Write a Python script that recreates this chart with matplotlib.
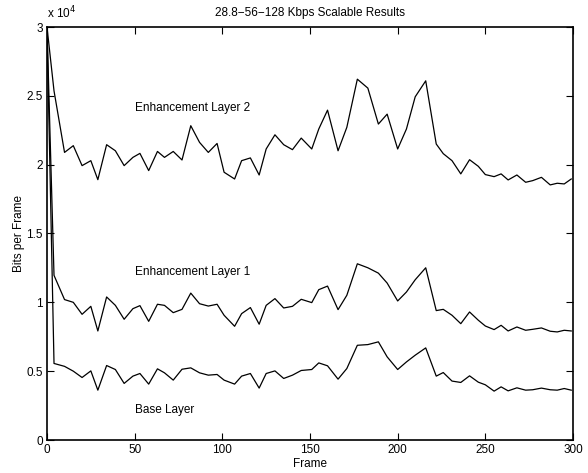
import numpy as np
import matplotlib
matplotlib.use("Agg")
import matplotlib.pyplot as plt

plt.rcParams["font.family"] = ["Liberation Sans", "DejaVu Sans"]

# frame numbers where each layer was sampled
frames = [0, 4, 10, 15, 20, 25, 29, 34, 39, 44,
          49, 53, 58, 63, 67, 72, 77, 82, 87, 92,
          97, 101, 107, 111, 116, 121, 125, 130, 135, 140,
          145, 151, 155, 160, 166, 171, 177, 183, 189, 194,
          200, 205, 210, 216, 222, 226, 231, 236, 241, 246,
          250, 255, 259, 263, 268, 273, 277, 282, 287, 291,
          295, 299]

# bits per frame, in thousands
base_layer = [30, 5.56, 5.35, 5.0, 4.54, 5.02, 3.62, 5.41, 5.12, 4.11,
              4.64, 4.83, 4.06, 5.17, 4.88, 4.35, 5.14, 5.24, 4.88, 4.71,
              4.76, 4.35, 4.06, 4.64, 4.83, 3.77, 4.83, 5.02, 4.47, 4.71,
              5.05, 5.12, 5.60, 5.39, 4.42, 5.19, 6.88, 6.93, 7.13, 6.04,
              5.12, 5.67, 6.16, 6.69, 4.64, 4.90, 4.28, 4.18, 4.66, 4.20,
              4.01, 3.55, 3.86, 3.57, 3.79, 3.62, 3.65, 3.77, 3.65, 3.62,
              3.74, 3.62]

enh_layer1 = [30, 11.96, 10.2, 10.0, 9.13, 9.71, 7.92, 10.39, 9.78, 8.77,
              9.54, 9.76, 8.62, 9.86, 9.78, 9.25, 9.49, 10.67, 9.9, 9.73,
              9.86, 9.06, 8.26, 9.18, 9.62, 8.41, 9.78, 10.27, 9.59, 9.71,
              10.22, 9.98, 10.92, 11.18, 9.47, 10.51, 12.8, 12.51, 12.12, 11.4,
              10.1, 10.75, 11.64, 12.51, 9.4, 9.49, 9.06, 8.45, 9.3, 8.7,
              8.28, 8.02, 8.33, 7.92, 8.21, 7.97, 8.04, 8.14, 7.9, 7.85,
              7.97, 7.92]

enh_layer2 = [30, 25.36, 20.89, 21.38, 19.93, 20.29, 18.91, 21.45, 21.01, 19.93,
              20.53, 20.82, 19.57, 20.96, 20.53, 20.96, 20.34, 22.83, 21.62, 20.89,
              21.54, 19.45, 18.96, 20.29, 20.49, 19.25, 21.14, 22.17, 21.45, 21.09,
              21.93, 21.14, 22.59, 23.96, 21.01, 22.71, 26.21, 25.56, 22.95, 23.67,
              21.14, 22.59, 24.93, 26.09, 21.5, 20.8, 20.29, 19.33, 20.36, 19.88,
              19.28, 19.13, 19.33, 18.89, 19.25, 18.72, 18.84, 19.08, 18.53, 18.65,
              18.6, 18.96]

x_ticks = [0, 50, 100, 150, 200, 250, 300]
y_ticks = [0, 5000, 10000, 15000, 20000, 25000, 30000]
y_tick_labels = ["0", "0.5", "1", "1.5", "2", "2.5", "3"]

fig = plt.figure(figsize=(5.88, 4.73), dpi=100)
ax = fig.add_axes([47 / 588, 33 / 473, 526 / 588, 413 / 473])

for series in (base_layer, enh_layer1, enh_layer2):
    ax.plot(frames, np.array(series) * 1000, c="black", lw=0.9)

ax.set_xlim(0, 300)
ax.set_ylim(0, 30000)
ax.set_xticks(x_ticks)
ax.set_yticks(y_ticks)
ax.set_yticklabels(y_tick_labels)
ax.tick_params(direction="in", length=5, width=0.8, top=True, right=True,
               labelsize=8.5, pad=3)
for sp in ax.spines.values():
    sp.set_linewidth(1.2)

ax.text(50, 23900, "Enhancement Layer 2", fontsize=8.5)
ax.text(50, 12000, "Enhancement Layer 1", fontsize=8.5)
ax.text(50, 1960, "Base Layer", fontsize=8.5)

ax.text(0, 30450, "x 10$^4$", fontsize=8.5, ha="left", va="bottom")

ax.set_title("28.8\u221256\u2212128 Kbps Scalable Results", fontsize=8.5, pad=8)
ax.set_xlabel("Frame", fontsize=8.5, labelpad=1.5)
ax.set_ylabel("Bits per Frame", fontsize=8.5, labelpad=1)

fig.savefig("out.png", dpi=100)
